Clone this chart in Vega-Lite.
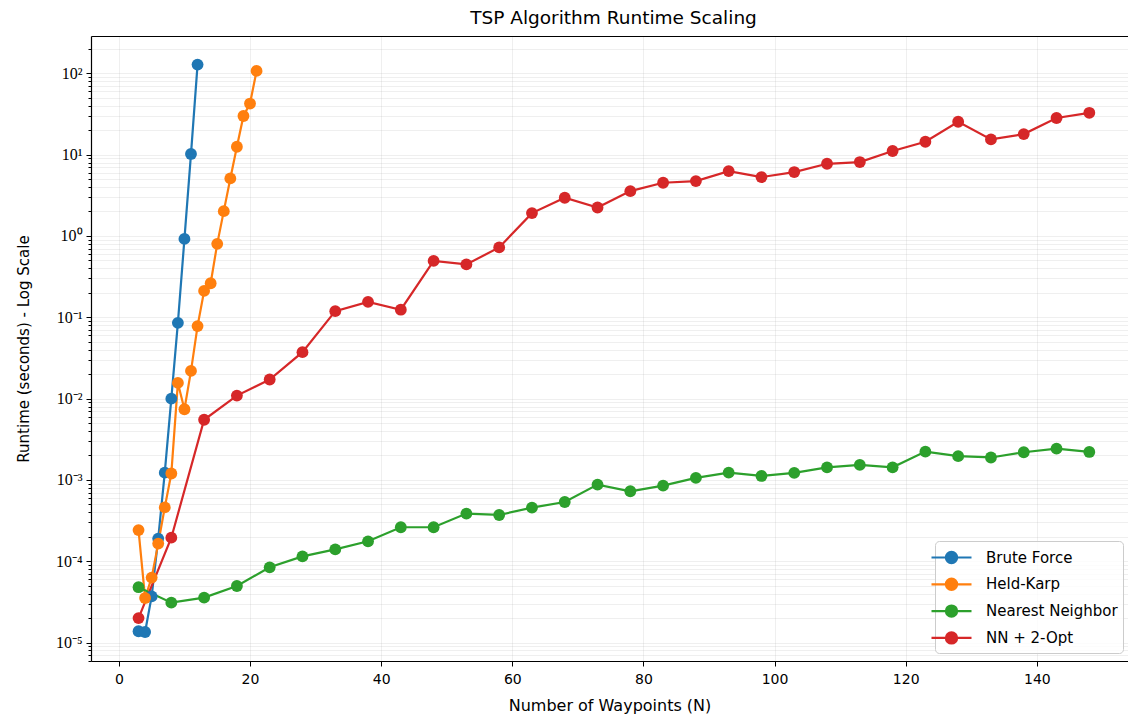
{
  "$schema": "https://vega.github.io/schema/vega-lite/v6.json",
  "autosize": "none",
  "width": 1037,
  "height": 625,
  "padding": {"left": 91, "top": 36, "right": 0, "bottom": 55},
  "background": "white",
  "config": {
    "view": {"stroke": null},
    "font": "DejaVu Sans"
  },
  "title": {
    "text": "TSP Algorithm Runtime Scaling",
    "font": "DejaVu Sans",
    "fontSize": 18.5,
    "fontWeight": "normal",
    "color": "#000000",
    "offset": 9,
    "dx": 4
  },
  "data": {
    "values": [
      {"algorithm": "Brute Force", "n": 3, "runtime": 0.0000138},
      {"algorithm": "Brute Force", "n": 4, "runtime": 0.0000135},
      {"algorithm": "Brute Force", "n": 5, "runtime": 0.000037},
      {"algorithm": "Brute Force", "n": 6, "runtime": 0.00019},
      {"algorithm": "Brute Force", "n": 7, "runtime": 0.00123},
      {"algorithm": "Brute Force", "n": 8, "runtime": 0.0100},
      {"algorithm": "Brute Force", "n": 9, "runtime": 0.0855},
      {"algorithm": "Brute Force", "n": 10, "runtime": 0.92},
      {"algorithm": "Brute Force", "n": 11, "runtime": 10.2},
      {"algorithm": "Brute Force", "n": 12, "runtime": 128},
      {"algorithm": "Held-Karp", "n": 3, "runtime": 0.000242},
      {"algorithm": "Held-Karp", "n": 4, "runtime": 0.0000353},
      {"algorithm": "Held-Karp", "n": 5, "runtime": 0.000063},
      {"algorithm": "Held-Karp", "n": 6, "runtime": 0.000165},
      {"algorithm": "Held-Karp", "n": 7, "runtime": 0.00046},
      {"algorithm": "Held-Karp", "n": 8, "runtime": 0.0012},
      {"algorithm": "Held-Karp", "n": 9, "runtime": 0.0156},
      {"algorithm": "Held-Karp", "n": 10, "runtime": 0.0074},
      {"algorithm": "Held-Karp", "n": 11, "runtime": 0.0219},
      {"algorithm": "Held-Karp", "n": 12, "runtime": 0.078},
      {"algorithm": "Held-Karp", "n": 13, "runtime": 0.211},
      {"algorithm": "Held-Karp", "n": 14, "runtime": 0.262},
      {"algorithm": "Held-Karp", "n": 15, "runtime": 0.80},
      {"algorithm": "Held-Karp", "n": 16, "runtime": 2.02},
      {"algorithm": "Held-Karp", "n": 17, "runtime": 5.1},
      {"algorithm": "Held-Karp", "n": 18, "runtime": 12.5},
      {"algorithm": "Held-Karp", "n": 19, "runtime": 29.9},
      {"algorithm": "Held-Karp", "n": 20, "runtime": 42.5},
      {"algorithm": "Held-Karp", "n": 21, "runtime": 107},
      {"algorithm": "Nearest Neighbor", "n": 3, "runtime": 0.000048},
      {"algorithm": "Nearest Neighbor", "n": 8, "runtime": 0.000031},
      {"algorithm": "Nearest Neighbor", "n": 13, "runtime": 0.0000357},
      {"algorithm": "Nearest Neighbor", "n": 18, "runtime": 0.0000497},
      {"algorithm": "Nearest Neighbor", "n": 23, "runtime": 0.0000843},
      {"algorithm": "Nearest Neighbor", "n": 28, "runtime": 0.000115},
      {"algorithm": "Nearest Neighbor", "n": 33, "runtime": 0.00014},
      {"algorithm": "Nearest Neighbor", "n": 38, "runtime": 0.000176},
      {"algorithm": "Nearest Neighbor", "n": 43, "runtime": 0.000262},
      {"algorithm": "Nearest Neighbor", "n": 48, "runtime": 0.000262},
      {"algorithm": "Nearest Neighbor", "n": 53, "runtime": 0.000386},
      {"algorithm": "Nearest Neighbor", "n": 58, "runtime": 0.000371},
      {"algorithm": "Nearest Neighbor", "n": 63, "runtime": 0.000457},
      {"algorithm": "Nearest Neighbor", "n": 68, "runtime": 0.000536},
      {"algorithm": "Nearest Neighbor", "n": 73, "runtime": 0.000877},
      {"algorithm": "Nearest Neighbor", "n": 78, "runtime": 0.000726},
      {"algorithm": "Nearest Neighbor", "n": 83, "runtime": 0.000853},
      {"algorithm": "Nearest Neighbor", "n": 88, "runtime": 0.00106},
      {"algorithm": "Nearest Neighbor", "n": 93, "runtime": 0.00123},
      {"algorithm": "Nearest Neighbor", "n": 98, "runtime": 0.00112},
      {"algorithm": "Nearest Neighbor", "n": 103, "runtime": 0.00122},
      {"algorithm": "Nearest Neighbor", "n": 108, "runtime": 0.00143},
      {"algorithm": "Nearest Neighbor", "n": 113, "runtime": 0.00153},
      {"algorithm": "Nearest Neighbor", "n": 118, "runtime": 0.00143},
      {"algorithm": "Nearest Neighbor", "n": 123, "runtime": 0.00223},
      {"algorithm": "Nearest Neighbor", "n": 128, "runtime": 0.00196},
      {"algorithm": "Nearest Neighbor", "n": 133, "runtime": 0.00189},
      {"algorithm": "Nearest Neighbor", "n": 138, "runtime": 0.00219},
      {"algorithm": "Nearest Neighbor", "n": 143, "runtime": 0.00243},
      {"algorithm": "Nearest Neighbor", "n": 148, "runtime": 0.00221},
      {"algorithm": "NN + 2-Opt", "n": 3, "runtime": 0.00002},
      {"algorithm": "NN + 2-Opt", "n": 8, "runtime": 0.000195},
      {"algorithm": "NN + 2-Opt", "n": 13, "runtime": 0.0055},
      {"algorithm": "NN + 2-Opt", "n": 18, "runtime": 0.0109},
      {"algorithm": "NN + 2-Opt", "n": 23, "runtime": 0.0172},
      {"algorithm": "NN + 2-Opt", "n": 28, "runtime": 0.0373},
      {"algorithm": "NN + 2-Opt", "n": 33, "runtime": 0.119},
      {"algorithm": "NN + 2-Opt", "n": 38, "runtime": 0.155},
      {"algorithm": "NN + 2-Opt", "n": 43, "runtime": 0.124},
      {"algorithm": "NN + 2-Opt", "n": 48, "runtime": 0.494},
      {"algorithm": "NN + 2-Opt", "n": 53, "runtime": 0.447},
      {"algorithm": "NN + 2-Opt", "n": 58, "runtime": 0.723},
      {"algorithm": "NN + 2-Opt", "n": 63, "runtime": 1.91},
      {"algorithm": "NN + 2-Opt", "n": 68, "runtime": 2.95},
      {"algorithm": "NN + 2-Opt", "n": 73, "runtime": 2.24},
      {"algorithm": "NN + 2-Opt", "n": 78, "runtime": 3.56},
      {"algorithm": "NN + 2-Opt", "n": 83, "runtime": 4.51},
      {"algorithm": "NN + 2-Opt", "n": 88, "runtime": 4.73},
      {"algorithm": "NN + 2-Opt", "n": 93, "runtime": 6.28},
      {"algorithm": "NN + 2-Opt", "n": 98, "runtime": 5.30},
      {"algorithm": "NN + 2-Opt", "n": 103, "runtime": 6.11},
      {"algorithm": "NN + 2-Opt", "n": 108, "runtime": 7.72},
      {"algorithm": "NN + 2-Opt", "n": 113, "runtime": 8.11},
      {"algorithm": "NN + 2-Opt", "n": 118, "runtime": 11.1},
      {"algorithm": "NN + 2-Opt", "n": 123, "runtime": 14.4},
      {"algorithm": "NN + 2-Opt", "n": 128, "runtime": 25.4},
      {"algorithm": "NN + 2-Opt", "n": 133, "runtime": 15.4},
      {"algorithm": "NN + 2-Opt", "n": 138, "runtime": 17.9},
      {"algorithm": "NN + 2-Opt", "n": 143, "runtime": 28.2},
      {"algorithm": "NN + 2-Opt", "n": 148, "runtime": 32.7}
    ]
  },
  "encoding": {
    "x": {
      "field": "n",
      "type": "quantitative",
      "scale": {"domain": [-4.25, 153.9], "nice": false, "zero": false}
    },
    "y": {
      "field": "runtime",
      "type": "quantitative",
      "scale": {"type": "log", "domain": [0.00000594, 287.7], "nice": false},
      "axis": {
        "title": "Runtime (seconds) - Log Scale",
        "values": [0.000006, 0.000007, 0.000008, 0.000009,
          0.00001, 0.00002, 0.00003, 0.00004, 0.00005, 0.00006, 0.00007, 0.00008, 0.00009,
          0.0001, 0.0002, 0.0003, 0.0004, 0.0005, 0.0006, 0.0007, 0.0008, 0.0009,
          0.001, 0.002, 0.003, 0.004, 0.005, 0.006, 0.007, 0.008, 0.009,
          0.01, 0.02, 0.03, 0.04, 0.05, 0.06, 0.07, 0.08, 0.09,
          0.1, 0.2, 0.3, 0.4, 0.5, 0.6, 0.7, 0.8, 0.9,
          1, 2, 3, 4, 5, 6, 7, 8, 9,
          10, 20, 30, 40, 50, 60, 70, 80, 90,
          100, 200],
        "labelExpr": "abs(log(datum.value)/LN10 - round(log(datum.value)/LN10)) < 0.001 ? '10' + (round(log(datum.value)/LN10) < 0 ? '⁻' : '') + substring('⁰¹²³⁴⁵⁶⁷⁸⁹', abs(round(log(datum.value)/LN10)), abs(round(log(datum.value)/LN10)) + 1) : ''",
        "labelFont": "Liberation Serif",
        "labelFontSize": 16,
        "labelColor": "#000000",
        "labelPadding": 4,
        "labelFlush": false,
        "labelOverlap": false,
        "titleFont": "DejaVu Sans",
        "titleFontSize": 15,
        "titleFontWeight": "normal",
        "titleColor": "#000000",
        "titlePadding": 24,
        "domainColor": "#000000",
        "domainWidth": 1.2,
        "tickColor": "#000000",
        "tickWidth": 1,
        "tickSize": {"condition": {"test": "abs(log(datum.value)/LN10 - round(log(datum.value)/LN10)) < 0.001", "value": 5}, "value": 3},
        "grid": true,
        "gridColor": "#b0b0b0",
        "gridOpacity": 0.25,
        "gridWidth": 0.8
      }
    },
    "color": {
      "field": "algorithm",
      "type": "nominal",
      "scale": {
        "domain": ["Brute Force", "Held-Karp", "Nearest Neighbor", "NN + 2-Opt"],
        "range": ["#1f77b4", "#ff7f0e", "#2ca02c", "#d62728"]
      },
      "legend": {
        "title": null,
        "orient": "none",
        "legendX": 844,
        "legendY": 505,
        "symbolType": "M-2,0L2,0M-0.56,0A0.56,0.56,0,1,0,0.56,0A0.56,0.56,0,1,0,-0.56,0Z",
        "symbolSize": 400,
        "symbolStrokeWidth": 2.2,
        "symbolOpacity": 1,
        "labelFont": "DejaVu Sans",
        "labelFontSize": 15,
        "labelColor": "#000000",
        "labelOffset": 23,
        "fillColor": "rgba(255,255,255,0.8)",
        "strokeColor": "#cccccc",
        "cornerRadius": 4,
        "padding": 5,
        "rowPadding": 4.8
      }
    }
  },
  "layer": [
    {
      "encoding": {
        "x": {
          "field": "n",
          "type": "quantitative",
          "axis": {
            "title": "Number of Waypoints (N)",
            "orient": "bottom",
            "values": [0, 20, 40, 60, 80, 100, 120, 140],
            "labelFont": "DejaVu Sans",
            "labelFontSize": 14,
            "labelColor": "#000000",
            "labelPadding": 6,
            "labelFlush": false,
            "titleFont": "DejaVu Sans",
            "titleFontSize": 16,
            "titleFontWeight": "normal",
            "titleColor": "#000000",
            "titlePadding": 11,
            "domainColor": "#000000",
            "domainWidth": 1.2,
            "tickColor": "#000000",
            "tickSize": 5,
            "tickWidth": 1,
            "grid": true,
            "gridColor": "#b0b0b0",
            "gridOpacity": 0.25,
            "gridWidth": 0.8
          }
        }
      },
      "layer": [
        {
          "mark": {"type": "line", "strokeWidth": 2.2, "clip": true},
          "encoding": {"detail": {"field": "algorithm"}}
        },
        {
          "mark": {"type": "point", "filled": true, "size": 140, "opacity": 1, "clip": true}
        }
      ]
    },
    {
      "mark": {"type": "point", "opacity": 0},
      "encoding": {
        "color": {"value": "transparent"},
        "x": {
          "field": "n",
          "type": "quantitative",
          "axis": {"orient": "top", "labels": false, "ticks": false, "grid": false, "title": null, "domainColor": "#000000", "domainWidth": 1.2}
        }
      }
    }
  ],
  "resolve": {"axis": {"x": "independent"}}
}
